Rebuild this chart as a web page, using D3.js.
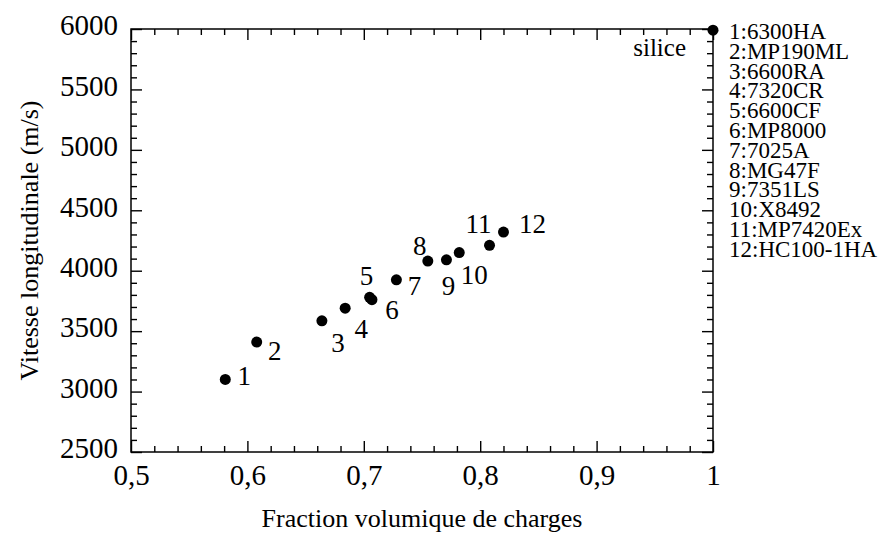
<!DOCTYPE html>
<html>
<head>
<meta charset="utf-8">
<script src="https://cdn.jsdelivr.net/npm/d3@7"></script>
<style>
  html, body { margin: 0; padding: 0; background: #fff; }
  svg { display: block; }
  text { font-family: "Liberation Serif", "Times New Roman", serif; fill: #000; }
</style>
</head>
<body>
<svg id="chart" width="892" height="538"></svg>
<script>
// ---- data ----
const ids = ["1","2","3","4","5","6","7","8","9","10","11","12"];
const fractions = [0.581, 0.608, 0.664, 0.684, 0.705, 0.707, 0.728, 0.755, 0.771, 0.782, 0.808, 0.820];
const velocities = [3100, 3410, 3585, 3690, 3780, 3760, 3925, 4080, 4090, 4150, 4210, 4320];
const names = ["6300HA","MP190ML","6600RA","7320CR","6600CF","MP8000","7025A","MG47F","7351LS","X8492","MP7420Ex","HC100-1HA"];
const silicaLabel = "silice";
const silicaFraction = 1.0;
const silicaVelocity = 5990;
const xTicks = [0.5, 0.6, 0.7, 0.8, 0.9, 1];
const yTicks = [2500, 3000, 3500, 4000, 4500, 5000, 5500, 6000];
const xTitle = "Fraction volumique de charges";
const yTitle = "Vitesse longitudinale (m/s)";

// ---- layout (label offsets in px, relative to point) ----
const labelOffsets = [[19,6],[18,18],[16,31],[16,30],[-3,-12],[20,19],[18,15],[-8,-6],[2,35],[15,31],[-11,-12],[29,1]];

const svg = d3.select("#chart");
const L = 131, R = 713, T = 29, B = 452;
const x = d3.scaleLinear().domain([0.5, 1]).range([L, R]);
const y = d3.scaleLinear().domain([2500, 6000]).range([B, T]);

const major = 11, minor = 6;
const fmtX = d => d === 1 ? "1" : d3.format(".1f")(d).replace(".", ",");
const minorX = d3.range(0, 26).map(i => 0.5 + i * 0.02).filter(v => !xTicks.some(t => Math.abs(t - v) < 1e-6));
const minorY = d3.range(0, 36).map(i => 2500 + i * 100).filter(v => v % 500 !== 0);

function styleAxis(g, fs) {
  g.select(".domain").remove();
  g.selectAll("line").attr("stroke", "#000").attr("stroke-width", 1.4);
  g.selectAll("text").style("font-family", "Liberation Serif").style("font-size", fs + "px").attr("fill", "#000");
}

// bottom
svg.append("g").attr("transform", `translate(0,${B})`)
  .call(d3.axisBottom(x).tickValues(xTicks).tickFormat(fmtX).tickSize(-major).tickPadding(12))
  .call(g => styleAxis(g, 29));
svg.append("g").attr("transform", `translate(0,${B})`)
  .call(d3.axisBottom(x).tickValues(minorX).tickFormat("").tickSize(-minor))
  .call(g => styleAxis(g, 29));
// top
svg.append("g").attr("transform", `translate(0,${T})`)
  .call(d3.axisTop(x).tickValues(xTicks).tickFormat("").tickSize(-major))
  .call(g => styleAxis(g, 29));
svg.append("g").attr("transform", `translate(0,${T})`)
  .call(d3.axisTop(x).tickValues(minorX).tickFormat("").tickSize(-minor))
  .call(g => styleAxis(g, 29));
// left
svg.append("g").attr("transform", `translate(${L},0)`)
  .call(d3.axisLeft(y).tickValues(yTicks).tickFormat(d3.format("d")).tickSize(-major).tickPadding(13))
  .call(g => { styleAxis(g, 29); g.selectAll("text").attr("dy", "0.2em"); });
svg.append("g").attr("transform", `translate(${L},0)`)
  .call(d3.axisLeft(y).tickValues(minorY).tickFormat("").tickSize(-minor))
  .call(g => styleAxis(g, 29));
// right
svg.append("g").attr("transform", `translate(${R},0)`)
  .call(d3.axisRight(y).tickValues(yTicks).tickFormat("").tickSize(-major))
  .call(g => styleAxis(g, 29));
svg.append("g").attr("transform", `translate(${R},0)`)
  .call(d3.axisRight(y).tickValues(minorY).tickFormat("").tickSize(-minor))
  .call(g => styleAxis(g, 29));

// frame
svg.append("rect").attr("x", L).attr("y", T).attr("width", R - L).attr("height", B - T)
  .attr("fill", "none").attr("stroke", "#000").attr("stroke-width", 1.5);

// points
const pts = ids.map((id, i) => ({ id, fx: fractions[i], v: velocities[i], off: labelOffsets[i] }));
svg.append("g").selectAll("circle").data(pts).join("circle")
  .attr("cx", d => x(d.fx)).attr("cy", d => y(d.v)).attr("r", 5.5).attr("fill", "#000");
svg.append("g").selectAll("text").data(pts).join("text")
  .attr("x", d => x(d.fx) + d.off[0]).attr("y", d => y(d.v) + d.off[1])
  .attr("text-anchor", "middle").style("font-size", "27px").text(d => d.id);

// silica point
svg.append("circle").attr("cx", x(silicaFraction)).attr("cy", y(silicaVelocity)).attr("r", 5.5).attr("fill", "#000");
svg.append("text").attr("x", x(silicaFraction) - 27).attr("y", y(silicaVelocity) + 26)
  .attr("text-anchor", "end").style("font-size", "25px").text(silicaLabel);

// legend
svg.append("g").selectAll("text").data(names).join("text")
  .attr("x", 729).attr("y", (d, i) => 39 + i * 19.8)
  .style("font-size", "23px").text((d, i) => ids[i] + ":" + d);

// axis titles
svg.append("text").attr("x", (L + R) / 2).attr("y", 527).attr("text-anchor", "middle")
  .style("font-size", "26px").text(xTitle);
svg.append("text").attr("transform", `translate(38,${(T + B) / 2}) rotate(-90)`)
  .attr("text-anchor", "middle").style("font-size", "26px").text(yTitle);
</script>
</body>
</html>
